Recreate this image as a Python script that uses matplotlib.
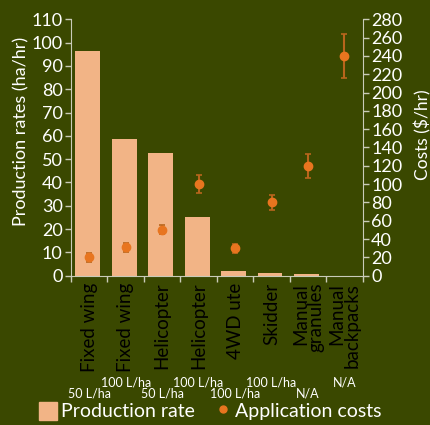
import matplotlib.pyplot as plt
import numpy as np

plt.rcParams['font.family'] = ['Lato', 'DejaVu Sans']

categories = ["Fixed wing", "Fixed wing", "Helicopter", "Helicopter", "4WD ute",
              "Skidder", "Manual\ngranules", "Manual\nbackpacks"]
rates = ["50 L/ha", "100 L/ha", "50 L/ha", "100 L/ha", "100 L/ha", "100 L/ha", "N/A", "N/A"]
production = [96.4, 58.6, 52.6, 25.2, 2.0, 1.2, 0.7, 0.0]
costs = [20, 31, 50, 100, 30, 80, 120, 240]
cost_err = [5, 5, 5, 10, 5, 8, 13, 24]

bg = '#3a4800'
bar_col = '#f2b486'
dot_col = '#e8751f'
err_col = '#b8651c'
spine_col = '#c9cbb8'
txt = 'white'

fig = plt.figure(figsize=(4.3, 4.25), dpi=100)
fig.patch.set_facecolor(bg)
ax = fig.add_axes([0.165, 0.3513, 0.6785, 0.6033])
ax.set_facecolor(bg)
x = np.arange(len(categories))

ax.bar(x - 0.04, production, width=0.68, color=bar_col, zorder=2)
ax.set_xlim(-0.5, 7.5)
ax.set_ylim(0, 110)
ax.set_yticks(range(0, 111, 10))
ax.set_ylabel('Production rates (ha/hr)', color=txt, fontsize=13)
ax.yaxis.set_label_coords(-0.141, 0.562)

ax2 = ax.twinx()
ax2.errorbar(x, costs, yerr=cost_err, fmt='o', color=dot_col, ecolor=err_col,
             markersize=6, elinewidth=1.5, capsize=2.5, capthick=1.2, zorder=3)
ax2.set_ylim(0, 280)
ax2.set_yticks(range(0, 281, 20))
ax2.set_ylabel('Costs ($/hr)', color=txt, fontsize=12.5)
ax2.yaxis.set_label_coords(1.176, 0.551)

for a in (ax, ax2):
    for s in a.spines.values():
        s.set_color(spine_col)
    a.spines['top'].set_visible(False)
    a.tick_params(colors=spine_col, labelcolor=txt, labelsize=13, length=4, width=1, pad=2)
ax.spines['right'].set_visible(False)
ax2.spines['left'].set_visible(False)
ax2.spines['bottom'].set_visible(False)

ax.set_xticks(np.arange(-0.5, 8, 1))
ax.set_xticklabels([])
ax.set_xticks(x, minor=True)
ax.set_xticklabels(categories, minor=True, rotation=90, va='top', ha='center',
                   multialignment='right', fontsize=13.5, linespacing=0.85)
ax.tick_params(axis='x', which='minor', length=0, pad=5)

trans = ax.get_xaxis_transform()
for i, r in enumerate(rates):
    yy = -0.4575 if i % 2 == 0 else -0.418
    ax.text(x[i], yy, r, transform=trans, ha='center', va='center',
            color=txt, fontsize=9)

h1 = plt.Rectangle((0, 0), 1, 1, color=bar_col)
h2 = plt.Line2D([], [], marker='o', linestyle='none', color=dot_col, markersize=5)
leg = fig.legend([h1, h2], ['Production rate', 'Application costs'], loc='center',
                 bbox_to_anchor=(0.49, 0.033), ncol=2, frameon=False, fontsize=14,
                 handlelength=0.9, handleheight=1.1, handletextpad=0.2, columnspacing=1.0)
for t in leg.get_texts():
    t.set_color(txt)

fig.savefig('out.png', dpi=100, facecolor=bg)
